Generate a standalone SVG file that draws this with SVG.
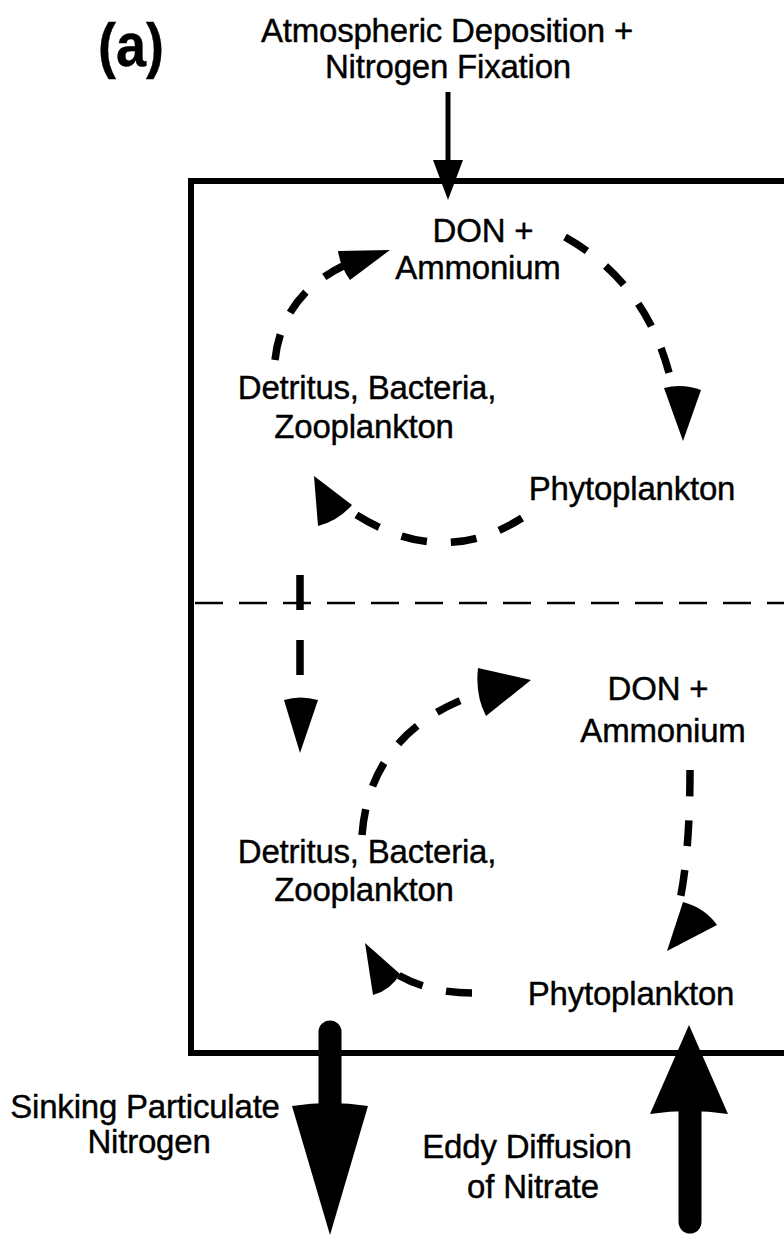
<svg xmlns="http://www.w3.org/2000/svg" width="784" height="1235" viewBox="0 0 784 1235">
<style>
text{font-family:"Liberation Sans",Arial,sans-serif;font-size:33px;fill:#000;stroke:#000;stroke-width:0.4;text-anchor:middle;letter-spacing:-0.2px}
.dash{fill:none;stroke:#000;stroke-width:7.5;stroke-dasharray:26 24}
.head{fill:#000}
</style>
<rect width="784" height="1235" fill="#fff"/>
<text x="131" y="66" textLength="66" lengthAdjust="spacingAndGlyphs" style="font-size:61px;font-weight:bold;letter-spacing:0">(a)</text>
<g id="inputs">
<text x="447" y="42">Atmospheric Deposition +</text>
<text x="448" y="78">Nitrogen Fixation</text>
</g>
<g id="box">
<path d="M790,181 H191 V1053 H790" fill="none" stroke="#000" stroke-width="6"/>
<line x1="195" y1="603" x2="784" y2="603" stroke="#000" stroke-width="2.5" stroke-dasharray="28 16"/>
</g>
<g id="up-don"><text x="483" y="242">DON +</text><text x="478" y="279">Ammonium</text></g>
<g id="up-det"><text x="367" y="399">Detritus, Bacteria,</text><text x="364" y="438">Zooplankton</text></g>
<g id="up-phy"><text x="632" y="500">Phytoplankton</text></g>
<g id="lo-don"><text x="658" y="700">DON +</text><text x="663" y="742">Ammonium</text></g>
<g id="lo-det"><text x="367" y="863">Detritus, Bacteria,</text><text x="364" y="901">Zooplankton</text></g>
<g id="lo-phy"><text x="631" y="1005">Phytoplankton</text></g>
<g id="sink-label"><text x="145" y="1118">Sinking Particulate</text><text x="149" y="1153">Nitrogen</text></g>
<g id="eddy-label"><text x="527" y="1158">Eddy Diffusion</text><text x="533" y="1198">of Nitrate</text></g>
<g id="connectors">
<line x1="448" y1="92" x2="448" y2="170" stroke="#000" stroke-width="5"/>
<polygon class="head" points="433,160 463,160 448,200"/>
<path class="dash" d="M275,360 Q282,295 345,265"/>
<path class="head" d="M390,250 L338,251 Q340,266 350,280 Z"/>
<path class="dash" d="M565,237 Q650,285 672,385"/>
<path class="head" d="M664,388 Q682,383 701,390 L683,441 Z"/>
<path class="dash" d="M522,518 Q440,570 352,512"/>
<path class="head" d="M314,476 L318,526 Q338,521 352,505 Z"/>
<path class="dash" d="M300,575 V680" style="stroke-dasharray:35 30"/>
<path class="head" d="M284,700 Q300,695 318,700 L300,753 Z"/>
<path class="dash" d="M362,835 Q370,730 480,693"/>
<path class="head" d="M531,680 L478,668 Q475,695 486,716 Z"/>
<path class="dash" d="M690,770 Q690,850 680,900"/>
<path class="head" d="M667,951 L683,902 Q705,908 717,925 Z"/>
<path class="dash" d="M472,993 Q430,993 398,975"/>
<path class="head" d="M365,943 L373,995 Q391,990 400,974 Z"/>
<path d="M330,1032 V1110" stroke="#000" stroke-width="23" stroke-linecap="round"/>
<path class="head" d="M292,1106 Q330,1100 368,1106 L330,1235 Z"/>
<path d="M690,1222 V1110" stroke="#000" stroke-width="23" stroke-linecap="round"/>
<path class="head" d="M650,1114 Q689,1108 728,1114 L689,1025 Z"/>
</g>
</svg>
